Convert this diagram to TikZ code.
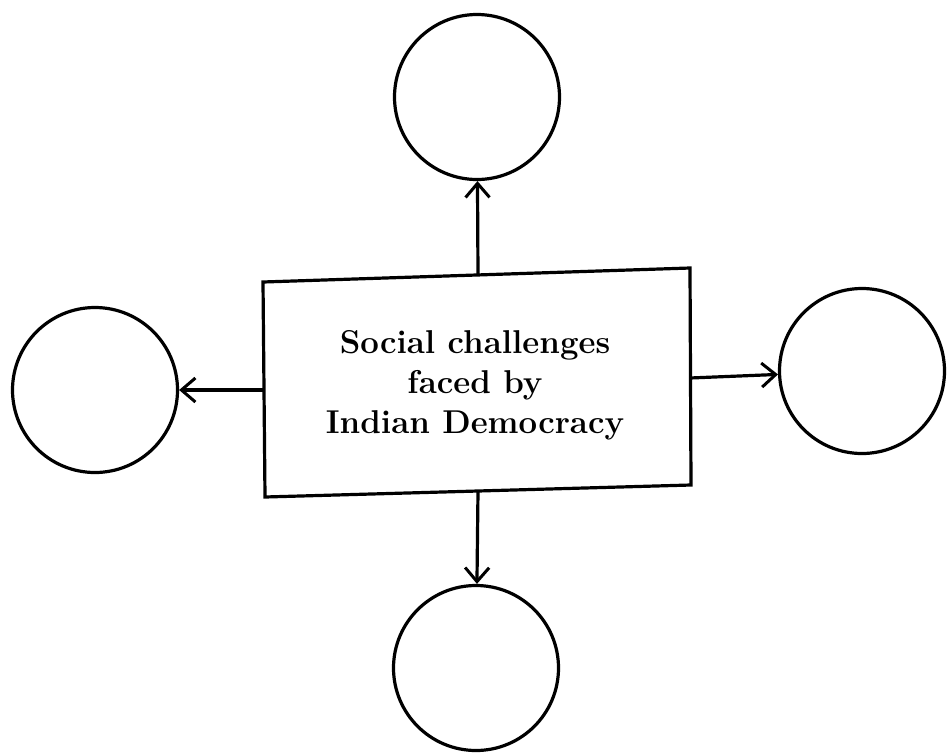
\documentclass[tikz,border=0pt]{standalone}
\usetikzlibrary{arrows.meta}

\tikzset{every picture/.style={line width=3.2pt}}
\tikzset{
  blank/.style={draw, circle, inner sep=0pt, minimum size=165pt},
  arr/.style={-{Straight Barb[length=14pt,width=24pt,line width=3pt]}},
  caption/.style={inner sep=0pt, align=center, font=\bfseries\fontsize{33}{40}\selectfont}
}

\begin{document}
\begin{tikzpicture}[x=1pt,y=1pt,yscale=-1,xscale=1]
    \useasboundingbox (0,0) rectangle (951,753);

    %Shape: Quad Box
    \draw (263,282) -- (690,268) -- (691,485) -- (265,497) -- cycle ;
    \coordinate (btop) at (478,275);
    \coordinate (bbot) at (478,491);
    \coordinate (bleft) at (264,390);
    \coordinate (bright) at (690,378);

    %Shape: Circle
    \node [blank] (ctop) at (477,97) {};
    %Shape: Circle
    \node [blank] (cbot) at (476,668) {};
    %Shape: Circle
    \node [blank] (cleft) at (95,390) {};
    %Shape: Circle
    \node [blank] (cright) at (862,371) {};

    %Straight Lines
    \draw [arr] (btop) -- (ctop) ;
    %Straight Lines
    \draw [arr] (bbot) -- (cbot) ;
    %Straight Lines
    \draw [arr] (bleft) -- (cleft) ;
    %Straight Lines
    \draw [arr] (bright) -- (cright) ;

    % Text Node
    \node [caption] (txt) at (475,385) {Social challenges\\faced by\\Indian Democracy};

\end{tikzpicture}
\end{document}
